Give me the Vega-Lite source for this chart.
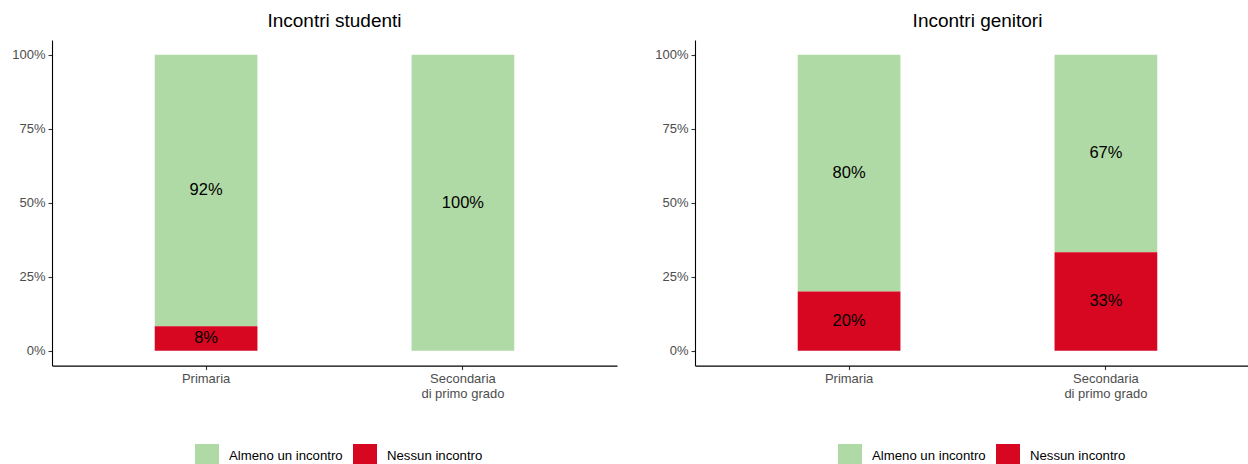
{
  "$schema": "https://vega.github.io/schema/vega-lite/v6.json",
  "padding": {"left": 11, "top": 12, "right": 0, "bottom": 0},
  "background": "white",
  "config": {
    "font": "Liberation Sans",
    "view": {"stroke": null},
    "title": {"font": "Liberation Sans", "fontSize": 19, "fontWeight": "normal", "color": "black", "anchor": "middle", "offset": 9},
    "axis": {"domainColor": "black", "domainWidth": 1.1, "tickColor": "#333333", "tickWidth": 1.1, "tickSize": 4, "labelColor": "#4d4d4d", "labelFont": "Liberation Sans", "labelFontSize": 13, "labelPadding": 3, "grid": false, "title": null},
    "legend": {"labelFont": "Liberation Sans", "labelFontSize": 13.2, "labelColor": "black", "symbolType": "square", "symbolSize": 576, "symbolStrokeWidth": 0, "symbolOpacity": 1, "labelOffset": 10, "columnPadding": 10, "padding": 0}
  },
  "data": {
    "values": [
      {"panel": "Incontri studenti", "scuola": "Primaria", "esito": "Almeno un incontro", "pct": 0.9167},
      {"panel": "Incontri studenti", "scuola": "Primaria", "esito": "Nessun incontro", "pct": 0.0833},
      {"panel": "Incontri studenti", "scuola": "Secondaria\ndi primo grado", "esito": "Almeno un incontro", "pct": 1.0},
      {"panel": "Incontri studenti", "scuola": "Secondaria\ndi primo grado", "esito": "Nessun incontro", "pct": 0.0},
      {"panel": "Incontri genitori", "scuola": "Primaria", "esito": "Almeno un incontro", "pct": 0.8},
      {"panel": "Incontri genitori", "scuola": "Primaria", "esito": "Nessun incontro", "pct": 0.2},
      {"panel": "Incontri genitori", "scuola": "Secondaria\ndi primo grado", "esito": "Almeno un incontro", "pct": 0.6667},
      {"panel": "Incontri genitori", "scuola": "Secondaria\ndi primo grado", "esito": "Nessun incontro", "pct": 0.3333}
    ]
  },
  "spacing": 37,
  "resolve": {"legend": {"color": "independent"}},
  "hconcat": [
    {
      "title": "Incontri studenti",
      "width": 565,
      "height": 325.6,
      "transform": [{"filter": "datum.panel == 'Incontri studenti'"}],
      "encoding": {
        "x": {"field": "scuola", "type": "nominal", "sort": ["Primaria", "Secondaria\ndi primo grado"], "scale": {"paddingInner": 0.6, "paddingOuter": 0.4}, "axis": {"labelAngle": 0, "labelExpr": "split(datum.label, '\\n')", "labelLineHeight": 15, "labelBaseline": "top"}}
      },
      "layer": [
        {
          "mark": {"type": "bar"},
          "encoding": {
            "y": {"field": "pct", "type": "quantitative", "stack": "zero", "scale": {"domain": [-0.05, 1.05], "nice": false, "zero": false}, "axis": {"values": [0, 0.25, 0.5, 0.75, 1], "format": ".0%", "minExtent": 40, "maxExtent": 40}},
            "color": {"field": "esito", "type": "nominal", "scale": {"domain": ["Almeno un incontro", "Nessun incontro"], "range": ["#b0daa5", "#d70721"]}, "legend": {"title": null, "orient": "none", "direction": "horizontal", "legendX": 143, "legendY": 404}},
            "order": {"field": "esito", "sort": "descending"}
          }
        },
        {
          "transform": [
            {"filter": "datum.pct > 0"},
            {"stack": "pct", "groupby": ["scuola"], "sort": [{"field": "esito", "order": "descending"}], "as": ["y0", "y1"]},
            {"calculate": "(datum.y0 + datum.y1) / 2", "as": "ymid"}
          ],
          "mark": {"type": "text", "fontSize": 16.5, "baseline": "middle", "color": "black", "font": "Liberation Sans"},
          "encoding": {
            "y": {"field": "ymid", "type": "quantitative"},
            "text": {"field": "pct", "type": "quantitative", "format": ".0%"}
          }
        }
      ]
    },
    {
      "title": "Incontri genitori",
      "width": 565,
      "height": 325.6,
      "transform": [{"filter": "datum.panel == 'Incontri genitori'"}],
      "encoding": {
        "x": {"field": "scuola", "type": "nominal", "sort": ["Primaria", "Secondaria\ndi primo grado"], "scale": {"paddingInner": 0.6, "paddingOuter": 0.4}, "axis": {"labelAngle": 0, "labelExpr": "split(datum.label, '\\n')", "labelLineHeight": 15, "labelBaseline": "top"}}
      },
      "layer": [
        {
          "mark": {"type": "bar"},
          "encoding": {
            "y": {"field": "pct", "type": "quantitative", "stack": "zero", "scale": {"domain": [-0.05, 1.05], "nice": false, "zero": false}, "axis": {"values": [0, 0.25, 0.5, 0.75, 1], "format": ".0%", "minExtent": 40, "maxExtent": 40}},
            "color": {"field": "esito", "type": "nominal", "scale": {"domain": ["Almeno un incontro", "Nessun incontro"], "range": ["#b0daa5", "#d70721"]}, "legend": {"title": null, "orient": "none", "direction": "horizontal", "legendX": 143, "legendY": 404}},
            "order": {"field": "esito", "sort": "descending"}
          }
        },
        {
          "transform": [
            {"filter": "datum.pct > 0"},
            {"stack": "pct", "groupby": ["scuola"], "sort": [{"field": "esito", "order": "descending"}], "as": ["y0", "y1"]},
            {"calculate": "(datum.y0 + datum.y1) / 2", "as": "ymid"}
          ],
          "mark": {"type": "text", "fontSize": 16.5, "baseline": "middle", "color": "black", "font": "Liberation Sans"},
          "encoding": {
            "y": {"field": "ymid", "type": "quantitative"},
            "text": {"field": "pct", "type": "quantitative", "format": ".0%"}
          }
        }
      ]
    }
  ]
}
